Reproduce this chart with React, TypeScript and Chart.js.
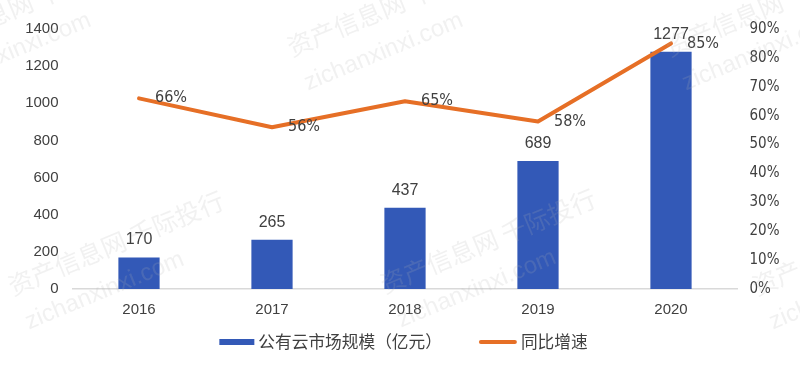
import React, { useEffect, useRef } from 'react';
import { Chart, registerables } from 'chart.js';

Chart.register(...registerables);

// ---- data ----
const years = ['2016', '2017', '2018', '2019', '2020'];
const marketSize = [170, 265, 437, 689, 1277];
const growthRate = [0.66, 0.56, 0.65, 0.58, 0.85];
const barSeriesName = '公有云市场规模（亿元）';
const lineSeriesName = '同比增速';
const leftTicks = [0, 200, 400, 600, 800, 1000, 1200, 1400];
const rightTicks = ['0%', '10%', '20%', '30%', '40%', '50%', '60%', '70%', '80%', '90%'];
const watermarkMain = '资产信息网 千际投行';
const watermarkSub = 'zichanxinxi.com';

const TEXT = '#404040';
const BLUE = '#3359B7';
const ORANGE = '#E66F26';
const SANS = '"Liberation Sans", Arial, sans-serif';
const CJK = '"Noto Sans CJK SC", sans-serif';

function fontInstalled(name: string): boolean {
  const c = document.createElement('canvas').getContext('2d');
  if (!c) return false;
  c.font = '40px monospace';
  const a = c.measureText('66%abcWM').width;
  c.font = `40px "${name}", monospace`;
  return Math.abs(c.measureText('66%abcWM').width - a) > 0.5;
}

export default function App() {
  const ref = useRef<HTMLCanvasElement | null>(null);

  useEffect(() => {
    if (!ref.current) return;
    let narrowFamily = '';
    if (fontInstalled('Liberation Sans Narrow')) narrowFamily = '"Liberation Sans Narrow"';
    else if (fontInstalled('DejaVu Sans Condensed')) narrowFamily = '"DejaVu Sans Condensed"';

    const dataLabelPlugin = {
      id: 'dataLabels',
      afterDatasetsDraw(chart: any) {
        const ctx = chart.ctx;
        ctx.save();
        ctx.fillStyle = TEXT;
        const barMeta = chart.getDatasetMeta(0);
        ctx.font = `16px ${SANS}`;
        ctx.textAlign = 'center';
        ctx.textBaseline = 'alphabetic';
        barMeta.data.forEach((el: any, i: number) => {
          ctx.fillText(String(marketSize[i]), el.x, el.y - 13);
        });
        const lineMeta = chart.getDatasetMeta(1);
        ctx.textAlign = 'left';
        ctx.textBaseline = 'middle';
        lineMeta.data.forEach((el: any, i: number) => {
          const txt = Math.round(growthRate[i] * 100) + '%';
          if (narrowFamily) {
            ctx.font = `16px ${narrowFamily}`;
            ctx.fillText(txt, el.x + 16, el.y);
          } else {
            ctx.save();
            ctx.font = `16px ${SANS}`;
            ctx.translate(el.x + 16, el.y);
            ctx.scale(0.82, 1);
            ctx.fillText(txt, 0, 0);
            ctx.restore();
          }
        });
        ctx.restore();
      },
    };

    const legendPlugin = {
      id: 'bottomLegend',
      afterDraw(chart: any) {
        const ctx = chart.ctx;
        const ds = chart.data.datasets;
        ctx.save();
        ctx.font = `16.7px ${CJK}`;
        const w1 = ctx.measureText(ds[0].label).width;
        const w2 = ctx.measureText(ds[1].label).width;
        const total = 35 + 4 + w1 + 37 + 38 + 4 + w2;
        const cy = 342;
        let x = 403.5 - total / 2;
        ctx.fillStyle = ds[0].backgroundColor;
        ctx.fillRect(x, cy - 3, 35, 6);
        x += 39;
        ctx.fillStyle = TEXT;
        ctx.textAlign = 'left';
        ctx.textBaseline = 'middle';
        ctx.fillText(ds[0].label, x, cy);
        x += w1 + 37;
        ctx.strokeStyle = ds[1].borderColor;
        ctx.lineWidth = 4;
        ctx.lineCap = 'round';
        ctx.beginPath();
        ctx.moveTo(x + 2, cy);
        ctx.lineTo(x + 36, cy);
        ctx.stroke();
        x += 42;
        ctx.fillText(ds[1].label, x, cy);
        ctx.restore();
      },
    };

    const watermarkPlugin = {
      id: 'watermark',
      afterDraw(chart: any) {
        const ctx = chart.ctx;
        const spots = [
          [-80, 57], [292, 57], [670, 57],
          [13, 296], [385, 294], [757, 296],
        ];
        ctx.save();
        ctx.fillStyle = 'rgba(175,175,175,0.18)';
        ctx.textAlign = 'left';
        ctx.textBaseline = 'alphabetic';
        spots.forEach(([x, y]) => {
          ctx.save();
          ctx.translate(x, y);
          ctx.rotate(-22.5 * Math.PI / 180);
          ctx.font = `25px ${CJK}`;
          ctx.fillText(watermarkMain, 0, 0);
          ctx.font = `24px ${SANS}`;
          ctx.fillText(watermarkSub, 2, 37);
          ctx.restore();
        });
        ctx.restore();
      },
    };

    const chart = new Chart(ref.current, {
      type: 'bar',
      data: {
        labels: years,
        datasets: [
          {
            type: 'bar',
            label: barSeriesName,
            data: marketSize,
            backgroundColor: BLUE,
            borderWidth: 0,
            yAxisID: 'y',
            categoryPercentage: 1,
            barPercentage: 0.31,
            order: 2,
          },
          {
            type: 'line',
            label: lineSeriesName,
            data: growthRate,
            borderColor: ORANGE,
            backgroundColor: ORANGE,
            borderWidth: 4,
            borderCapStyle: 'round',
            borderJoinStyle: 'round',
            pointRadius: 0,
            tension: 0,
            yAxisID: 'y1',
            order: 1,
          } as any,
        ],
      },
      options: {
        responsive: false,
        animation: false,
        layout: { padding: { top: 29, bottom: 48, left: 0, right: 0 } },
        plugins: {
          tooltip: { enabled: false },
          legend: { display: false },
        },
        scales: {
          x: {
            grid: { display: false, drawTicks: false },
            border: { display: true, color: '#D9D9D9', width: 1.5 },
            ticks: { color: TEXT, font: { family: SANS, size: 15 }, padding: 12 },
            afterFit(scale: any) { scale.height = 29; },
          },
          y: {
            position: 'left',
            min: 0,
            max: 1400,
            afterBuildTicks(scale: any) { scale.ticks = leftTicks.map((v) => ({ value: v })); },
            grid: { display: false, drawTicks: false },
            border: { display: false },
            ticks: {
              color: TEXT,
              font: { family: SANS, size: 15 },
              padding: 14,
              callback: (v: any) => String(v),
            },
            afterFit(scale: any) { scale.width = 72.5; },
          },
          y1: {
            position: 'right',
            min: 0,
            max: 0.9,
            afterBuildTicks(scale: any) { scale.ticks = rightTicks.map((_, i) => ({ value: i / 10 })); },
            grid: { display: false, drawTicks: false },
            border: { display: false },
            ticks: {
              color: TEXT,
              font: narrowFamily ? { family: narrowFamily, size: 15 } : { family: SANS, size: 13.5 },
              padding: 12,
              callback: (_v: any, i: number) => rightTicks[i],
            },
            afterFit(scale: any) { scale.width = 62.5; },
          },
        },
      },
      plugins: [dataLabelPlugin, legendPlugin, watermarkPlugin],
    } as any);
    return () => chart.destroy();
  }, []);

  return (
    <canvas
      ref={ref}
      width={800}
      height={366}
      style={{ position: 'fixed', left: 0, top: 0, width: 800, height: 366, background: '#fff' }}
    />
  );
}
